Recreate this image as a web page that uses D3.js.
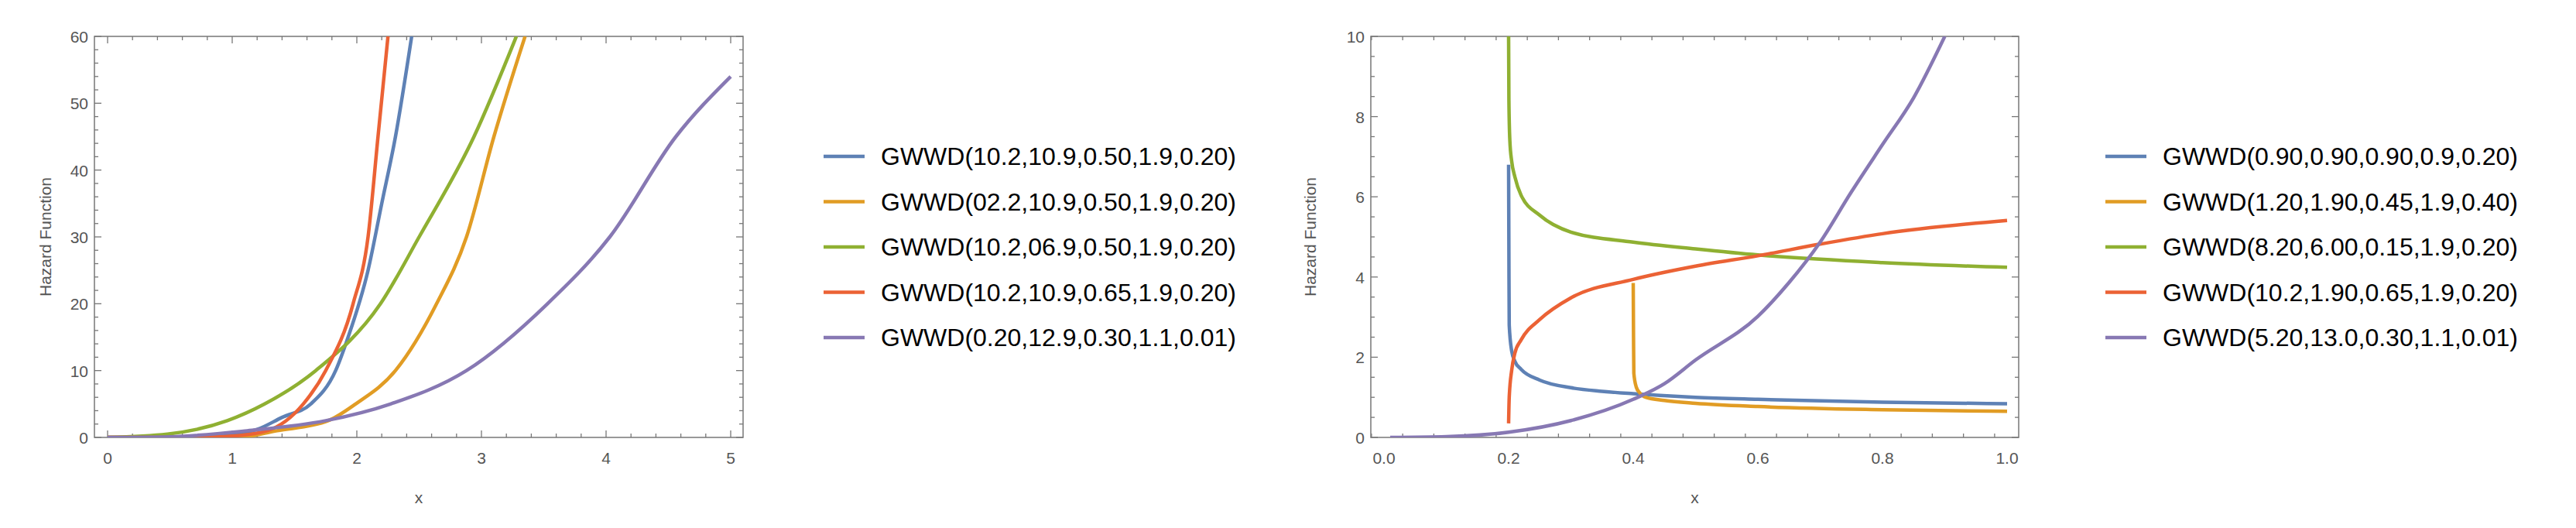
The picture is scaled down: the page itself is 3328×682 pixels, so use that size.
<!DOCTYPE html>
<html>
<head>
<meta charset="utf-8">
<script src="https://cdn.jsdelivr.net/npm/d3@7"></script>
<style>
  body { margin: 0; background: #fff; }
  text { font-family: "Liberation Sans", Arial, sans-serif; }
</style>
</head>
<body>
<svg id="chart" width="3328" height="682"></svg>
<script>
// series colours (Mathematica default palette)
const colors = ["#5E81B5", "#E19C24", "#8FB032", "#EB6235", "#8778B3"];

// left panel
const leftLabels = [
  "GWWD(10.2,10.9,0.50,1.9,0.20)",
  "GWWD(02.2,10.9,0.50,1.9,0.20)",
  "GWWD(10.2,06.9,0.50,1.9,0.20)",
  "GWWD(10.2,10.9,0.65,1.9,0.20)",
  "GWWD(0.20,12.9,0.30,1.1,0.01)"
];
const leftXTicks = [0, 1, 2, 3, 4, 5];
const leftYTicks = [0, 10, 20, 30, 40, 50, 60];
const leftBlueX = [0, 0.5, 1, 1.2, 1.4, 1.63, 1.83, 1.93, 2.09, 2.2, 2.31, 2.44];
const leftBlueY = [0, 0.05, 0.5, 1.2, 3, 5, 10, 15, 25, 35, 45, 60];
const leftOrangeX = [0, 1.04, 1.36, 1.77, 1.99, 2.31, 2.64, 2.88, 3.1, 3.35];
const leftOrangeY = [0, 0, 1, 2.5, 5, 10, 20, 30, 45, 60];
const leftGreenX = [0, 0.48, 0.96, 1.26, 1.67, 2.19, 2.5, 2.94, 3.28];
const leftGreenY = [0, 0.5, 2.5, 5, 10, 20, 30, 45, 60];
const leftRedX = [0, 0.72, 1.0, 1.28, 1.57, 1.75, 1.97, 2.09, 2.17, 2.25];
const leftRedY = [0, 0, 0.2, 1, 5, 10, 20, 30, 45, 60];
const leftPurpleX = [0, 0.5, 1.12, 1.75, 2.27, 2.88, 3.53, 4.03, 4.56, 5];
const leftPurpleY = [0, 0.1, 1, 2.5, 5, 10, 20, 30, 45, 54];

// right panel
const rightLabels = [
  "GWWD(0.90,0.90,0.90,0.9,0.20)",
  "GWWD(1.20,1.90,0.45,1.9,0.40)",
  "GWWD(8.20,6.00,0.15,1.9,0.20)",
  "GWWD(10.2,1.90,0.65,1.9,0.20)",
  "GWWD(5.20,13.0,0.30,1.1,0.01)"
];
const rightXTicks = [0, 0.2, 0.4, 0.6, 0.8, 1.0];
const rightYTicks = [0, 2, 4, 6, 8, 10];
const rightBlueX = [0.2, 0.2005, 0.201, 0.205, 0.21, 0.22, 0.25, 0.3, 0.35, 0.4, 0.5, 0.6, 0.8, 1.0];
const rightBlueY = [6.8, 4.5, 2.8, 2.15, 1.9, 1.7, 1.43, 1.24, 1.15, 1.09, 1.0, 0.95, 0.88, 0.84];
const rightOrangeX = [0.4, 0.4005, 0.401, 0.405, 0.41, 0.42, 0.45, 0.5, 0.6, 0.8, 1.0];
const rightOrangeY = [3.85, 2.5, 1.6, 1.25, 1.12, 1.0, 0.92, 0.85, 0.77, 0.69, 0.65];
const rightGreenX = [0.2, 0.2005, 0.202, 0.205, 0.21, 0.22, 0.25, 0.3, 0.4, 0.5, 0.6, 0.8, 1.0];
const rightGreenY = [10, 8.4, 7.4, 6.88, 6.5, 6.04, 5.54, 5.12, 4.87, 4.7, 4.55, 4.36, 4.24];
const rightRedX = [0.2, 0.201, 0.205, 0.21, 0.22, 0.25, 0.3, 0.4, 0.5, 0.6, 0.7, 0.8, 1.0];
const rightRedY = [0.35, 1.0, 1.68, 2.1, 2.43, 2.94, 3.48, 3.94, 4.27, 4.53, 4.82, 5.08, 5.41];
const rightPurpleX = [0.01, 0.1, 0.2, 0.3, 0.4, 0.45, 0.5, 0.6, 0.65, 0.7, 0.75, 0.8, 0.85, 0.9];
const rightPurpleY = [0, 0.02, 0.13, 0.42, 0.95, 1.34, 1.93, 3.02, 3.86, 4.87, 6.12, 7.3, 8.47, 10];

const zip = (xs, ys) => xs.map((x, i) => [x, ys[i]]);

const svg = d3.select("#chart");
const axisColor = "#777";
const labelColor = "#555";

function panel(cfg) {
  const { frame, xDomain, yDomain, xRange0, xRangeEnd, xTicks, yTicks, xMinor, yMinor, series, labels, legend, yTitleX, fmtX, id } = cfg;
  var x = d3.scaleLinear().domain(xDomain).range([xRange0, xRangeEnd]);
  var y = d3.scaleLinear().domain(yDomain).range([frame.bottom, frame.top]);
  var g = svg.append("g");

  // frame
  g.append("rect")
    .attr("x", frame.left).attr("y", frame.top)
    .attr("width", frame.right - frame.left).attr("height", frame.bottom - frame.top)
    .attr("fill", "none").attr("stroke", axisColor).attr("stroke-width", 1.5);

  // ticks on all sides, inward
  var xMinorTicks = d3.range(xDomain[0], xDomain[1] + 1e-9, xMinor);
  var yMinorTicks = d3.range(yDomain[0], yDomain[1] + 1e-9, yMinor);
  const isMajor = (v, arr) => arr.some((t) => Math.abs(t - v) < 1e-6);
  xMinorTicks.forEach((v) => {
    let len = isMajor(v, xTicks) ? 9 : 5;
    [[frame.bottom, -1], [frame.top, 1]].forEach(([y0, dir]) => {
      g.append("line").attr("x1", x(v)).attr("x2", x(v))
        .attr("y1", y0).attr("y2", y0 + dir * len)
        .attr("stroke", axisColor).attr("stroke-width", 1.3);
    });
  });
  yMinorTicks.forEach((v) => {
    let len = isMajor(v, yTicks) ? 9 : 5;
    [[frame.left, 1], [frame.right, -1]].forEach(([x0, dir]) => {
      g.append("line").attr("x1", x0).attr("x2", x0 + dir * len)
        .attr("y1", y(v)).attr("y2", y(v))
        .attr("stroke", axisColor).attr("stroke-width", 1.3);
    });
  });

  // tick labels
  g.selectAll(".xl").data(xTicks).join("text")
    .attr("x", (d) => x(d)).attr("y", frame.bottom + 34)
    .attr("text-anchor", "middle").attr("font-size", 21).attr("fill", labelColor)
    .text(fmtX);
  g.selectAll(".yl").data(yTicks).join("text")
    .attr("x", frame.left - 8).attr("y", (d) => y(d) + 8)
    .attr("text-anchor", "end").attr("font-size", 21).attr("fill", labelColor)
    .text((d) => d);

  // axis titles
  g.append("text").attr("x", (frame.left + frame.right) / 2).attr("y", 650)
    .attr("text-anchor", "middle").attr("font-size", 21).attr("fill", labelColor).text("x");
  g.append("text")
    .attr("transform", `translate(${yTitleX},${(frame.top + frame.bottom) / 2}) rotate(-90)`)
    .attr("text-anchor", "middle").attr("font-size", 21).attr("fill", labelColor)
    .text("Hazard Function");

  // curves
  g.append("clipPath").attr("id", id).append("rect")
    .attr("x", frame.left).attr("y", frame.top)
    .attr("width", frame.right - frame.left).attr("height", frame.bottom - frame.top);
  var line = d3.line().x((d) => x(d[0])).y((d) => y(d[1])).curve(d3.curveMonotoneX);
  g.append("g").attr("clip-path", `url(#${id})`)
    .selectAll("path").data(series).join("path")
    .attr("d", line).attr("fill", "none")
    .attr("stroke", (d, i) => colors[i]).attr("stroke-width", 4.5);

  // legend
  var lg = g.append("g");
  labels.forEach((lab, i) => {
    let yy = 202 + i * 58.5;
    lg.append("line").attr("x1", legend.x).attr("x2", legend.x + 53)
      .attr("y1", yy).attr("y2", yy).attr("stroke", colors[i]).attr("stroke-width", 4.5);
    lg.append("text").attr("x", legend.x + 74).attr("y", yy + 11)
      .attr("font-size", 32).attr("fill", "#000").text(lab);
  });
}

panel({
  id: "clipL",
  frame: { left: 122, right: 960, top: 47, bottom: 565 },
  xDomain: [0, 5.1], xRange0: 139, xRangeEnd: 139 + 5.1 * 161,
  yDomain: [0, 60],
  xTicks: leftXTicks, yTicks: leftYTicks, xMinor: 0.2, yMinor: 2,
  series: [zip(leftBlueX, leftBlueY), zip(leftOrangeX, leftOrangeY), zip(leftGreenX, leftGreenY),
           zip(leftRedX, leftRedY), zip(leftPurpleX, leftPurpleY)],
  labels: leftLabels, legend: { x: 1064 }, yTitleX: 66,
  fmtX: (d) => d
});

panel({
  id: "clipR",
  frame: { left: 1771, right: 2608, top: 47, bottom: 565 },
  xDomain: [-0.02, 1.02], xRange0: 1788 - 0.02 * 805, xRangeEnd: 1788 + 1.02 * 805,
  yDomain: [0, 10],
  xTicks: rightXTicks, yTicks: rightYTicks, xMinor: 0.05, yMinor: 0.5,
  series: [zip(rightBlueX, rightBlueY), zip(rightOrangeX, rightOrangeY), zip(rightGreenX, rightGreenY),
           zip(rightRedX, rightRedY), zip(rightPurpleX, rightPurpleY)],
  labels: rightLabels, legend: { x: 2720 }, yTitleX: 1700,
  fmtX: d3.format(".1f")
});
</script>
</body>
</html>
